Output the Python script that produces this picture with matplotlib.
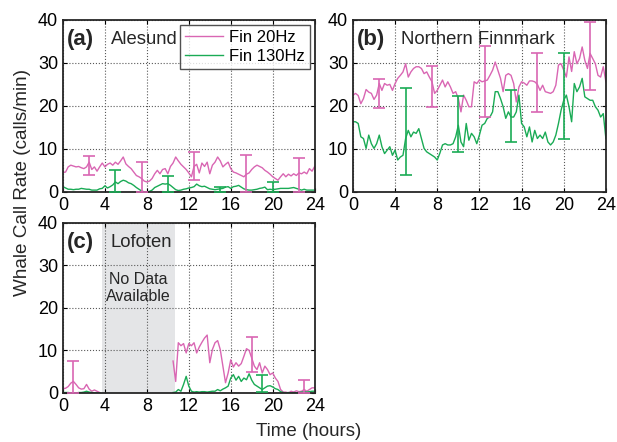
import numpy as np
import matplotlib
matplotlib.use("Agg")
import matplotlib.pyplot as plt

plt.rcParams['font.family'] = ['Liberation Sans', 'DejaVu Sans']

PINK = '#d966b3'
GREEN = '#1aab55'

#%% Data: call rates every 15 min

hours = np.arange(0, 24.25, 0.25)

# Alesund
ale_20 = [4.5, 4.6, 5.8, 6.2, 6.0, 5.8, 5.9, 5.6, 5.4, 5.8, 6.9, 5.2, 5.8, 4.8, 5.8, 6.7,
          5.8, 6.4, 6.7, 6.2, 6.9, 6.4, 7.2, 8.1, 6.5, 5.9, 5.4, 4.6, 3.8, 3.5, 3.1, 2.5,
          2.3, 2.5, 3.1, 4.2, 5.0, 4.2, 5.2, 5.4, 4.2, 5.9, 6.7, 8.1, 7.2, 6.4, 5.8, 5.2,
          4.4, 3.5, 5.9, 6.4, 4.4, 6.7, 5.9, 6.9, 4.2, 6.2, 6.9, 8.1, 7.2, 5.8, 6.4, 6.9,
          5.4, 4.6, 4.4, 4.1, 3.8, 3.5, 4.1, 4.4, 5.2, 5.8, 6.2, 5.9, 5.6, 5.0, 4.6, 4.1,
          3.5, 3.1, 2.7, 3.5, 4.2, 3.5, 4.1, 3.7, 4.2, 3.8, 4.4, 4.2, 4.6, 4.2, 5.4, 4.8,
          5.9]
ale_130 = [1.2, 0.9, 0.6, 0.6, 0.5, 0.6, 0.6, 0.8, 0.7, 0.6, 0.6, 0.4, 0.4, 0.4, 0.7, 0.8,
           1.4, 0.9, 1.2, 1.6, 2.3, 1.9, 2.4, 2.7, 2.5, 2.1, 1.9, 1.5, 1.0, 0.6, 0.2, 0.0,
           0.0, 0.1, 0.4, 1.0, 1.3, 1.6, 1.9, 1.8, 1.9, 1.5, 1.0, 0.5, 0.3, 0.4, 0.6, 0.7,
           0.9, 1.0, 1.2, 1.8, 1.4, 1.2, 1.3, 1.0, 0.7, 0.6, 0.5, 0.6, 0.7, 0.8, 1.1, 1.2,
           0.8, 1.2, 1.3, 1.5, 1.1, 0.7, 0.5, 0.4, 0.4, 0.5, 0.6, 0.8, 0.9, 1.1, 0.5, 0.6,
           0.5, 0.6, 0.7, 0.8, 0.8, 0.8, 0.8, 0.9, 1.0, 0.8, 0.6, 0.4, 0.6, 0.4, 0.4, 0.4,
           0.4]

# Northern Finnmark
fin_20 = [22.5, 22.9, 22.4, 20.5, 21.7, 23.8, 23.2, 22.9, 21.5, 22.5, 25.2, 23.6, 25.2, 24.8, 25.0, 23.6,
          25.2, 26.4, 27.1, 27.9, 29.8, 26.7, 27.9, 28.7, 29.1, 29.1, 28.7, 27.5, 27.9, 26.7, 25.6, 22.9,
          23.6, 24.8, 26.0, 24.4, 25.6, 24.4, 22.9, 23.3, 21.7, 18.6, 22.5, 21.3, 19.8, 19.8, 25.6, 25.2,
          26.0, 25.6, 25.8, 26.0, 27.1, 28.3, 30.2, 28.3, 26.4, 23.3, 27.1, 27.5, 27.1, 25.2, 20.9, 24.4,
          25.6, 25.3, 24.8, 25.8, 25.8, 25.6, 25.0, 23.6, 24.8, 23.3, 23.1, 22.9, 23.3, 24.8, 29.5, 29.8,
          28.3, 26.7, 31.4, 28.0, 32.6, 29.8, 31.0, 33.7, 30.6, 28.7, 32.2, 31.0, 29.8, 27.1, 26.7, 29.1,
          25.6]
fin_130 = [16.3, 16.3, 15.9, 12.8, 12.4, 10.1, 13.2, 11.2, 10.1, 11.2, 13.2, 10.5, 8.9, 9.7, 10.5, 8.5,
           9.7, 7.4, 8.1, 8.5, 12.4, 14.3, 12.8, 13.9, 13.6, 14.7, 12.4, 10.1, 9.3, 8.9, 8.5, 8.1,
           7.4, 9.0, 10.9, 11.2, 10.9, 10.9, 11.2, 12.8, 15.5, 11.6, 10.5, 15.9, 12.0, 13.6, 12.8, 11.2,
           13.2, 15.5, 15.9, 17.1, 17.4, 18.6, 23.3, 23.3, 21.7, 19.8, 17.1, 18.6, 17.4, 17.4, 18.6, 22.5,
           15.9, 15.1, 12.8, 15.1, 11.6, 14.3, 12.4, 13.2, 12.4, 13.9, 11.6, 10.9, 11.6, 13.2, 15.9, 19.0,
           21.3, 22.5, 19.8, 16.3, 25.2, 23.3, 24.4, 26.4, 22.1, 21.7, 21.3, 21.3, 19.8, 19.0, 17.4, 18.2,
           12.4]

# Lofoten (recorder off between about 3.7 h and 10.6 h)
nan = np.nan
lof_20 = [1.0, 1.1, 1.5, 2.3, 2.7, 2.0, 1.2, 0.9, 1.0, 2.0, 0.9, 0.4, 0.7, 0.4, 0.1,
          nan, nan, nan, nan, nan, nan, nan, nan, nan, nan, nan, nan, nan, nan,
          nan, nan, nan, nan, nan, nan, nan, nan, nan, nan, nan, nan, nan,
          7.5, 2.7, 11.8, 11.1, 11.6, 9.4, 11.6, 11.1, 11.8, 9.4, 10.8, 11.9, 12.9, 13.6,
          7.1, 10.2, 11.8, 12.3, 10.2, 6.3, 2.4, 4.7, 7.8, 6.1, 7.1, 6.3, 6.9, 8.6,
          10.4, 10.0, 8.2, 6.3, 5.5, 7.1, 4.7, 6.3, 5.5, 4.3, 4.7, 3.5, 2.7, 0.8,
          0.2, 0.2, 0.0, 0.4, 0.2, 0.5, 0.3, 0.4, 0.8, 0.4, 0.8, 1.2, 1.2]
lof_130 = [0.1, 0.1, 0.1, 0.0, 0.0, 0.0, 0.1, 0.1, 0.2, 0.4, 0.2, 0.1, 0.0, 0.0, 0.0,
           nan, nan, nan, nan, nan, nan, nan, nan, nan, nan, nan, nan, nan, nan,
           nan, nan, nan, nan, nan, nan, nan, nan, nan, nan, nan, nan, nan,
           0.1, 0.2, 0.8, 0.4, 2.0, 3.9, 1.6, 0.4, 0.2, 0.3, 0.2, 0.3, 0.3, 0.2,
           0.3, 0.4, 0.4, 0.8, 0.5, 0.9, 1.2, 1.6, 3.5, 4.3, 3.0, 3.9, 2.7, 3.5,
           3.1, 4.5, 3.0, 2.0, 1.6, 1.2, 0.8, 1.2, 1.6, 1.7, 1.4, 1.0, 0.8, 0.3,
           0.1, 0.0, 0.1, 0.0, 0.1, 0.0, 0.1, 0.2, 0.3, 0.2, 0.3, 0.4, 0.4]

# error bars: hour, low, high
ale_err20 = ([2.5, 7.5, 12.5, 17.5, 22.5], [4.0, 0.0, 2.7, 0.0, 0.0], [8.3, 6.9, 9.2, 8.6, 7.9])
ale_err130 = ([5, 10, 15, 20], [0.0, 0.0, 0.0, 0.0], [5.0, 3.7, 1.2, 2.3])
fin_err20 = ([2.5, 7.5, 12.5, 17.5, 22.5], [19.4, 19.8, 17.3, 18.6, 23.6], [26.2, 29.3, 33.9, 32.2, 39.4])
fin_err130 = ([5, 10, 15, 20], [4.0, 9.2, 11.5, 12.2], [24.2, 22.3, 23.8, 32.3])
lof_err20 = ([1, 18, 23], [0.0, 5.0, 0.0], [7.5, 13.2, 3.0])
lof_err130 = ([19], [0.2], [4.1])

#%% Plot

fig = plt.figure(figsize=(6.17, 4.42), dpi=100)
ax_a = fig.add_axes([0.102, 0.566, 0.408, 0.389])
ax_b = fig.add_axes([0.572, 0.566, 0.410, 0.389])
ax_c = fig.add_axes([0.102, 0.111, 0.408, 0.385])


def errbars(ax, err, color):
    x, lo, hi = err
    lo = np.array(lo)
    hi = np.array(hi)
    mid = (lo + hi) / 2
    ax.errorbar(x, mid, yerr=[mid - lo, hi - mid], fmt='none', ecolor=color,
                elinewidth=1.2, capsize=4, capthick=1.2, zorder=3)


def style(ax):
    ax.set_xlim(0, 24)
    ax.set_ylim(0, 40)
    ax.set_xticks(range(0, 25, 4))
    ax.set_yticks(range(0, 41, 10))
    ax.set_axisbelow(True)
    ax.grid(True, linestyle=':', color='0.35', linewidth=0.8)
    ax.tick_params(direction='in', length=3, width=0.8, labelsize=13, pad=3.5,
                   top=True, right=True)
    for s in ax.spines.values():
        s.set_linewidth(1.3)
        s.set_color('0.15')


panels = [(ax_a, ale_20, ale_130, ale_err20, ale_err130, '(a)', 'Alesund'),
          (ax_b, fin_20, fin_130, fin_err20, fin_err130, '(b)', 'Northern Finnmark'),
          (ax_c, lof_20, lof_130, lof_err20, lof_err130, '(c)', 'Lofoten')]

for ax, y20, y130, e20, e130, tag, name in panels:
    style(ax)
    ax.plot(hours, y20, color=PINK, lw=1.0, label='Fin 20Hz', zorder=2)
    ax.plot(hours, y130, color=GREEN, lw=1.0, label='Fin 130Hz', zorder=2)
    errbars(ax, e20, PINK)
    errbars(ax, e130, GREEN)
    ax.text(0.015, 0.885, tag, transform=ax.transAxes, fontsize=16,
            fontweight='bold', va='center', ha='left', color='0.15')
    ax.text(0.19, 0.885, name, transform=ax.transAxes, fontsize=13.3,
            va='center', ha='left', color='0.15')

ax_c.axvspan(3.7, 10.65, color='#e4e5e7', lw=0, zorder=0.2)
ax_c.text(7.2, 24.7, 'No Data\nAvailable', fontsize=11.5, ha='center', va='center',
          color='0.15', linespacing=1.15)

leg = ax_a.legend(loc='upper right', fontsize=12, frameon=True, fancybox=False,
                  handlelength=2.3, borderaxespad=0.3, labelspacing=0.25,
                  handletextpad=0.35, borderpad=0.3)
leg.get_frame().set_edgecolor('0.15')
leg.get_frame().set_linewidth(1.0)

fig.text(0.5, 0.023, 'Time (hours)', fontsize=13.5, ha='center', va='center', color='0.15')
fig.text(0.036, 0.588, 'Whale Call Rate (calls/min)', fontsize=13.6, rotation=90,
         ha='center', va='center', color='0.15')

plt.savefig('out.png', dpi=100)
